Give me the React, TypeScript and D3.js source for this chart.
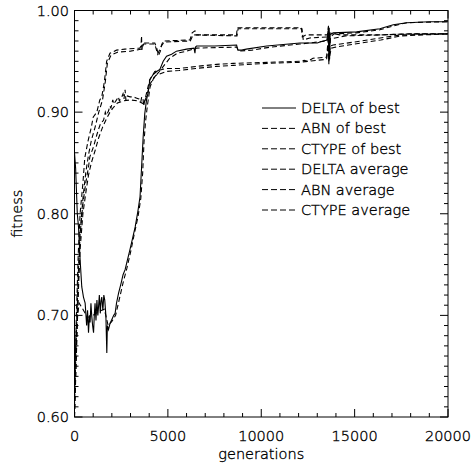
import React from "react";
import * as d3 from "d3";

// ---- data (generation, fitness) ----
const DELTA_BEST: [number, number][] = [
  [0,0.860],[60,0.845],[150,0.800],[215,0.787],[300,0.755],[390,0.728],[480,0.718],[570,0.712],[650,0.690],[700,0.705],[750,0.683],[800,0.700],[835,0.693],[880,0.712],[925,0.699],[970,0.690],[1020,0.683],[1060,0.700],[1100,0.712],[1150,0.695],[1200,0.715],[1250,0.700],[1285,0.708],[1330,0.720],[1380,0.702],[1420,0.714],[1460,0.718],[1520,0.705],[1570,0.720],[1620,0.715],[1680,0.700],[1730,0.663],[1760,0.690],[1820,0.686],[1900,0.692],[2000,0.696],[2100,0.700],[2175,0.702],[2250,0.712],[2360,0.722],[2500,0.732],[2600,0.740],[2710,0.745],[2800,0.752],[2960,0.764],[3100,0.775],[3250,0.787],[3400,0.803],[3510,0.817],[3590,0.845],[3675,0.875],[3760,0.898],[3857,0.912],[3950,0.920],[4034,0.932],[4210,0.937],[4400,0.940],[4570,0.942],[4750,0.950],[4930,0.955],[5200,0.957],[5460,0.960],[6000,0.962],[6400,0.963],[6450,0.958],[6480,0.964],[6535,0.965],[7500,0.965],[8680,0.966],[8750,0.961],[8950,0.961],[9200,0.962],[10290,0.965],[12070,0.968],[13000,0.968],[13300,0.970],[13550,0.971],[13600,0.984],[13620,0.947],[13640,0.983],[13660,0.952],[13690,0.976],[13850,0.978],[15100,0.979],[16350,0.982],[17070,0.986],[17790,0.988],[19000,0.989],[20000,0.989]
];
const ABN_BEST: [number, number][] = [
  [0,0.620],[100,0.700],[200,0.760],[300,0.800],[450,0.830],[550,0.855],[730,0.872],[900,0.885],[1000,0.895],[1195,0.900],[1355,0.912],[1460,0.915],[1600,0.930],[1720,0.950],[1900,0.958],[2250,0.961],[2700,0.962],[3500,0.963],[3560,0.965],[3590,0.975],[3610,0.960],[3640,0.968],[3770,0.968],[4300,0.968],[4390,0.964],[4500,0.956],[4600,0.960],[4660,0.966],[4750,0.970],[6180,0.971],[6300,0.978],[6450,0.980],[6535,0.976],[8680,0.976],[8710,0.983],[12150,0.983],[12200,0.974],[12400,0.976],[13550,0.976],[13600,0.985],[13620,0.955],[13650,0.978],[14200,0.976],[16400,0.976],[18000,0.977],[20000,0.977]
];
const CTYPE_BEST: [number, number][] = [
  [0,0.610],[100,0.680],[200,0.740],[300,0.780],[450,0.810],[600,0.830],[750,0.846],[820,0.856],[1020,0.866],[1200,0.878],[1285,0.883],[1400,0.889],[1555,0.892],[1650,0.900],[1700,0.897],[1820,0.901],[1890,0.906],[1950,0.904],[2050,0.912],[2100,0.908],[2175,0.910],[2250,0.912],[2350,0.915],[2400,0.911],[2535,0.915],[2600,0.918],[2650,0.913],[2710,0.922],[2750,0.912],[2800,0.916],[2980,0.915],[3140,0.915],[3300,0.914],[3450,0.913],[3550,0.910],[3600,0.915],[3675,0.912],[3700,0.906],[3770,0.912],[4030,0.932],[4300,0.940],[4930,0.943],[5640,0.943],[6535,0.945],[7610,0.947],[8500,0.948],[10290,0.949],[12070,0.950],[12300,0.951],[12500,0.950],[12770,0.953],[13500,0.954],[13600,0.975],[13620,0.950],[13700,0.965],[13850,0.966],[15000,0.969],[16370,0.973],[17500,0.976],[20000,0.977]
];
const DELTA_AVG: [number, number][] = [
  [0,0.640],[100,0.690],[250,0.712],[450,0.706],[700,0.698],[1000,0.700],[1300,0.704],[1600,0.706],[1800,0.690],[2000,0.694],[2200,0.700],[2400,0.716],[2600,0.732],[2800,0.746],[3000,0.762],[3200,0.780],[3400,0.797],[3550,0.815],[3650,0.840],[3720,0.870],[3800,0.890],[3900,0.906],[4050,0.925],[4250,0.934],[4500,0.939],[4800,0.946],[5100,0.953],[5500,0.958],[6000,0.960],[6535,0.963],[8680,0.964],[8800,0.960],[9500,0.961],[10500,0.964],[12070,0.967],[13500,0.970],[13600,0.980],[13630,0.955],[13700,0.974],[13900,0.977],[15100,0.978],[16350,0.981],[17100,0.985],[17800,0.988],[20000,0.989]
];
const ABN_AVG: [number, number][] = [
  [0,0.600],[100,0.670],[200,0.730],[300,0.780],[450,0.815],[600,0.840],[750,0.858],[900,0.872],[1100,0.885],[1300,0.900],[1500,0.912],[1650,0.930],[1760,0.948],[1950,0.956],[2300,0.959],[3000,0.960],[3600,0.962],[3700,0.967],[4300,0.967],[4450,0.957],[4650,0.965],[4800,0.969],[6200,0.970],[6350,0.976],[8700,0.975],[8760,0.982],[12180,0.982],[12250,0.971],[12600,0.973],[13550,0.974],[13600,0.980],[13630,0.960],[13700,0.972],[14500,0.975],[16400,0.976],[18000,0.977],[20000,0.977]
];
const CTYPE_AVG: [number, number][] = [
  [0,0.600],[100,0.660],[200,0.720],[300,0.765],[450,0.800],[600,0.820],[750,0.838],[900,0.850],[1100,0.862],[1300,0.875],[1500,0.885],[1700,0.893],[1900,0.900],[2100,0.905],[2300,0.909],[2600,0.911],[3000,0.912],[3400,0.911],[3700,0.908],[3850,0.915],[4050,0.928],[4350,0.936],[4900,0.940],[5600,0.941],[6500,0.943],[7600,0.945],[8500,0.946],[10300,0.948],[12000,0.949],[13500,0.952],[13600,0.970],[13630,0.952],[13750,0.963],[14000,0.964],[15000,0.967],[16400,0.971],[17500,0.975],[20000,0.977]
];

const SERIES_NAMES = ["DELTA of best", "ABN of best", "CTYPE of best", "DELTA average", "ABN average", "CTYPE average"];
const SERIES_DATA = [DELTA_BEST, ABN_BEST, CTYPE_BEST, DELTA_AVG, ABN_AVG, CTYPE_AVG];
const SERIES_DASH = [null, "5,3", "5,3", "5,3", "5,3", "5,3"];

const X_TICKS = [0, 5000, 10000, 15000, 20000];
const Y_TICKS = [0.6, 0.7, 0.8, 0.9, 1.0];

const W = 476, H = 467;
const L = 74.5, R = 448, T = 10.5, B = 417;
const FONT = "'DejaVu Sans', sans-serif";

export default function App() {
  const x = d3.scaleLinear().domain([0, 20000]).range([L, R]);
  const y = d3.scaleLinear().domain([0.6, 1.0]).range([B, T]);
  const line = d3.line<[number, number]>().x(d => x(d[0])).y(d => y(d[1]));
  const xMinor = d3.range(0, 20001, 1000);
  const yMinor = d3.range(0, 41).map(i => 0.6 + i * 0.01);
  const fs = 14.5;

  return (
    <svg width={W} height={H} style={{ position: "absolute", left: 0, top: 0, background: "#fff" }}>
      <defs>
        <clipPath id="plot"><rect x={L} y={T} width={R - L} height={B - T} /></clipPath>
      </defs>
      <rect x={0} y={0} width={W} height={H} fill="#fff" />
      <g clipPath="url(#plot)" fill="none" stroke="#000">
        {SERIES_DATA.map((d, i) => (
          <path key={i} d={line(d) || ""} strokeWidth={1.1} strokeDasharray={SERIES_DASH[i] || undefined} />
        ))}
      </g>
      {/* axes frame */}
      <rect x={L} y={T} width={R - L} height={B - T} fill="none" stroke="#000" strokeWidth={1} />
      <g stroke="#000" strokeWidth={1}>
        {xMinor.map(v => {
          const major = v % 5000 === 0;
          const len = major ? 8 : 4;
          return (
            <g key={"x" + v}>
              <line x1={x(v)} x2={x(v)} y1={B} y2={B - len} />
              <line x1={x(v)} x2={x(v)} y1={T} y2={T + len} />
            </g>
          );
        })}
        {yMinor.map((v, i) => {
          const major = i % 10 === 0;
          const len = major ? 8 : 4;
          return (
            <g key={"y" + i}>
              <line x1={L} x2={L + len} y1={y(v)} y2={y(v)} />
              <line x1={R} x2={R - len} y1={y(v)} y2={y(v)} />
            </g>
          );
        })}
      </g>
      <g fontFamily={FONT} fontSize={fs} fontWeight={200} fill="#000" stroke="#000" strokeWidth={0.35}>
        {X_TICKS.map(v => (
          <text key={v} x={x(v)} y={440.5} textAnchor="middle">{v}</text>
        ))}
        {Y_TICKS.map(v => (
          <text key={v} x={69} y={y(v)} textAnchor="end" dominantBaseline="central">{d3.format(".2f")(v)}</text>
        ))}
        <text x={(L + R) / 2} y={459} textAnchor="middle">generations</text>
        <text transform={`translate(22,${(T + B) / 2}) rotate(-90)`} textAnchor="middle">fitness</text>
        {SERIES_NAMES.map((n, i) => {
          const yy = 108 + i * 20.4;
          return (
            <g key={n}>
              <line x1={262} x2={296} y1={yy} y2={yy} stroke="#000" strokeWidth={1} strokeDasharray={i === 0 ? undefined : "6,3"} />
              <text x={301} y={yy} dominantBaseline="central">{n}</text>
            </g>
          );
        })}
      </g>
    </svg>
  );
}
